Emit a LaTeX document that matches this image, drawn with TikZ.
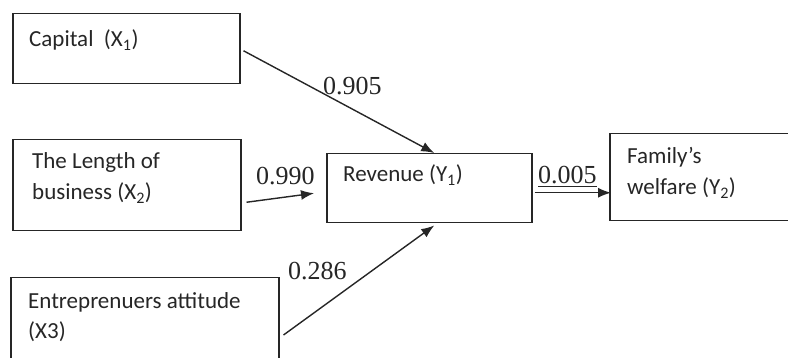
\documentclass[tikz,border=0pt]{standalone}
\usepackage{fontspec}
\setmainfont{Carlito}
\newfontfamily\numfont{Liberation Serif}
\usetikzlibrary{arrows.meta}

\tikzset{
  box/.style={draw=black!85, line width=1.5pt, inner sep=0pt, anchor=north west},
  txt/.style={anchor=base west, inner sep=0pt, align=left, text=black!85,
    font=\fontsize{23}{31}\selectfont},
  coef/.style={anchor=base west, inner sep=0pt, text=black!85,
    font=\numfont\fontsize{26}{30}\selectfont},
  arr/.style={draw=black!85, line width=1.4pt, -{Latex[length=13pt,width=10pt]}}
}

\begin{document}
\begin{tikzpicture}[x=1pt, y=-1pt]
    \useasboundingbox (0,0) rectangle (788,358);

    % boxes
    \node[box, minimum width=227pt, minimum height=70pt] (capital) at (12,13) {};
    \node[box, minimum width=228pt, minimum height=91pt] (length) at (12,139) {};
    \node[box, minimum width=268pt, minimum height=95pt] (attitude) at (10,277) {};
    \node[box, minimum width=205pt, minimum height=69pt] (revenue) at (326,153) {};
    \node[box, minimum width=190pt, minimum height=87pt] (welfare) at (609,133) {};

    % texts (base = last line)
    \node[txt] (capitaltxt) at (29,47) {Capital~~(X\textsubscript{1})};
    \node[txt] (lengthtxt) at (32,200) {The Length of\\business (X\textsubscript{2})};
    \node[txt] (attitudetxt) at (28,339) {Entreprenuers attitude\\(X3)};
    \node[txt] (revenuetxt) at (343,182) {Revenue (Y\textsubscript{1})};
    \node[txt] (welfaretxt) at (627,195) {Family’s\\welfare (Y\textsubscript{2})};

    % paths
    \draw[arr] ([shift={(3,2)}]capital.east) -- ([shift={(5,0)}]revenue.north);
    \draw[arr] ([shift={(5,17)}]length.east) -- ([shift={(-12,5)}]revenue.west);
    \draw[arr] ([shift={(4,58)}]attitude.north east) -- ([shift={(5,2)}]revenue.south);
    \draw[arr] ([shift={(2,4.5)}]revenue.east) -- ([shift={(2,15.5)}]welfare.west);

    \node[coef] (c1) at (323,95) {0.905};
    \node[coef] (c2) at (256,185) {0.990};
    \node[coef] (c3) at (288,280) {0.286};
    \node[coef] (c4) at (538,184) {\underline{0.005}};

\end{tikzpicture}
\end{document}
